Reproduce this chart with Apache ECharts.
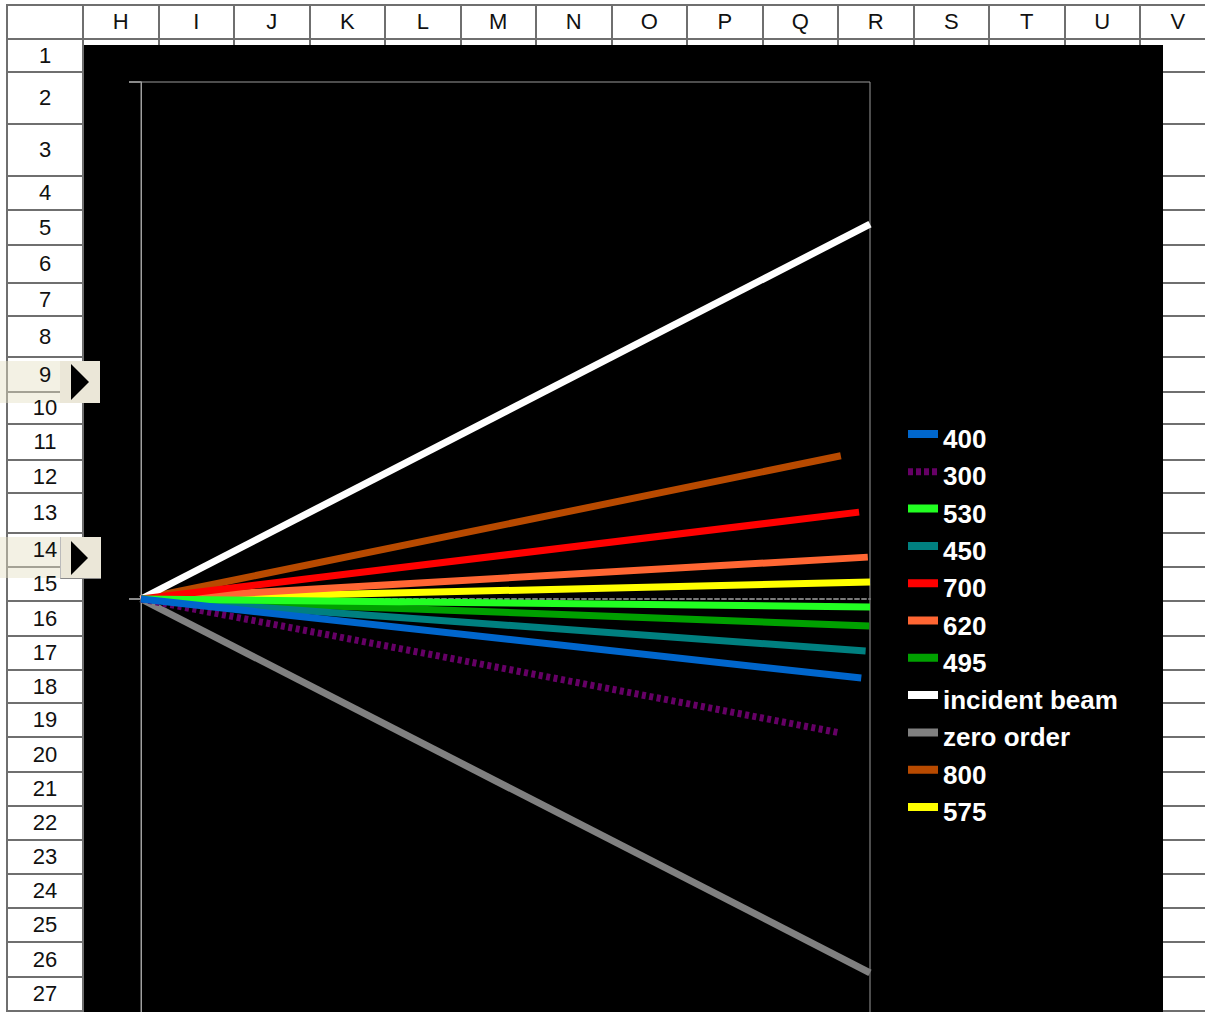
<!DOCTYPE html>
<html><head><meta charset="utf-8">
<script src="https://cdn.jsdelivr.net/npm/echarts@6/dist/echarts.min.js"></script>
<style>
html,body{margin:0;padding:0;width:1205px;height:1012px;overflow:hidden;background:#fff;font-family:"Liberation Sans",Arial,sans-serif;}
.vl{position:absolute;width:2px;background:#6f6f6f;}
.hl{position:absolute;height:2px;background:#6f6f6f;}
.lbl{position:absolute;font-size:22px;color:#111;text-align:center;line-height:1;z-index:3;}
#chart{position:absolute;left:84px;top:45px;width:1079px;height:1130px;background:#000;z-index:1;}
.ov{position:absolute;z-index:2;}
.tri{position:absolute;width:0;height:0;border-style:solid;border-color:transparent transparent transparent #000;z-index:4;}
</style></head><body>
<div id="sheet"></div>
<div id="chart"></div>
<script>
// ---- spreadsheet frame ----
const colLetters = ['H','I','J','K','L','M','N','O','P','Q','R','S','T','U','V'];
const rowLabels = ['1','2','3','4','5','6','7','8','9','10','11','12','13','14','15','16','17','18','19','20','21','22','23','24','25','26','27'];
const rowEdges = [39,72,124,176,210,245,283,316,357,392,424,460,493,533,567,601,636,670,703,737,772,806,840,874,908,942,977,1011];

const sheet = document.getElementById('sheet');
function add(cls, css, text){
  const d = document.createElement('div');
  d.className = cls;
  Object.assign(d.style, css);
  if (text !== undefined) d.textContent = text;
  sheet.appendChild(d);
  return d;
}
const colX0 = 83, colW = 75.5;
add('hl', {left:'7px', top:'4px', width:'1200px'});
add('hl', {left:'7px', top:'38px', width:'1200px'});
add('vl', {left:'6px', top:'4px', height:'1010px'});
for (let i = 0; i <= colLetters.length; i++) {
  const x = colX0 + i * colW;
  add('vl', {left:(x-1)+'px', top:'4px', height:'42px'});
  if (i < colLetters.length) {
    add('lbl', {left:x+'px', top:'11px', width:colW+'px'}, colLetters[i]);
  }
}
add('vl', {left:'82px', top:'38px', height:'980px'});
for (let r = 0; r < rowLabels.length; r++) {
  const y0 = rowEdges[r], y1 = rowEdges[r+1];
  add('lbl', {left:'7px', top:((y0+y1)/2 - 11)+'px', width:'76px'}, rowLabels[r]);
}
for (let r = 1; r < rowEdges.length; r++) {
  add('hl', {left:'7px', top:(rowEdges[r]-1)+'px', width:'76px'});
  add('hl', {left:'1163px', top:(rowEdges[r]-1)+'px', width:'45px'});
}
// selection markers (rows 9 and 14)
add('ov', {left:'0px', top:'361px', width:'60px', height:'42px', background:'rgba(228,224,196,0.45)'});
add('ov', {left:'60px', top:'361px', width:'40px', height:'42px', background:'#ebe7d8'});
add('tri', {left:'71px', top:'364px', borderWidth:'18px 0 18px 18px'});
add('ov', {left:'0px', top:'537px', width:'60px', height:'41px', background:'rgba(228,224,196,0.45)'});
add('ov', {left:'60px', top:'537px', width:'40px', height:'41px', background:'#ebe7d8', borderBottom:'1px solid #888', borderLeft:'1px solid #bbb'});
add('tri', {left:'71px', top:'541px', borderWidth:'17px 0 17px 17px'});

// ---- chart data ----
const seriesNames = ['400','300','530','450','700','620','495','incident beam','zero order','800','575'];
const seriesColors = ['#0066cc','#660066','#22ff22','#008080','#ff0000','#ff6633','#00a000','#ffffff','#808080','#b84a00','#ffff00'];
const endX = [0.988, 0.959, 1.000, 0.994, 0.985, 0.997, 0.999, 1.000, 1.000, 0.960, 1.000];
const endY = [-0.153, -0.259, -0.0155, -0.1006, 0.168, 0.081, -0.052, 0.725, -0.723, 0.277, 0.033];
const dashed = ['300'];

const solidIcon = 'path://M0,4H30V12H0Z M0,0H0.01V0.01H0Z M29.99,25.99H30V26H29.99Z';
const dotIcon = 'path://M0,5H5V12H0Z M8,5H13V12H8Z M16,5H21V12H16Z M24,5H29V12H24Z M0,0H0.01V0.01H0Z M29.99,25.99H30V26H29.99Z';

const chart = echarts.init(document.getElementById('chart'), null, {renderer:'svg'});
const series = seriesNames.map((name, i) => ({
  name: name,
  type: 'line',
  data: [[0, 0], [endX[i], endY[i]]],
  showSymbol: false,
  symbol: 'none',
  color: seriesColors[i],
  lineStyle: {
    color: seriesColors[i],
    width: 7,
    type: dashed.includes(name) ? [4, 3.5] : 'solid',
    cap: 'butt'
  },
  z: 30 - i,
  silent: true
}));

chart.setOption({
  animation: false,
  backgroundColor: '#000',
  grid: {
    left: 57, top: 37, width: 729, height: 1034,
    show: true, borderColor: '#9a9a9a', borderWidth: 1, backgroundColor: 'transparent'
  },
  xAxis: {
    type: 'value', min: 0, max: 1,
    axisLine: {onZero: true, lineStyle: {color: '#7a7a7a', width: 2, type: [4, 3]}},
    axisTick: {show: false}, axisLabel: {show: false}, splitLine: {show: false}
  },
  yAxis: {
    type: 'value', min: -1, max: 1, interval: 1,
    axisLine: {show: true, lineStyle: {color: '#a0a0a0', width: 1}},
    axisTick: {show: true, inside: false, length: 12, lineStyle: {color: '#8a8a8a', width: 2}},
    axisLabel: {show: false}, splitLine: {show: false}
  },
  legend: {
    data: seriesNames.map(n => ({name: n, icon: dashed.includes(n) ? dotIcon : solidIcon})),
    orient: 'vertical',
    left: 819, top: 376,
    itemWidth: 30, itemHeight: 26, itemGap: 11.3,
    selectedMode: false,
    itemStyle: {borderWidth: 0},
    textStyle: {color: '#fff', fontSize: 26, fontWeight: 'bold', fontFamily: '"Liberation Sans", Arial, sans-serif', lineHeight: 26}
  },
  series: series
});
</script>
</body></html>
